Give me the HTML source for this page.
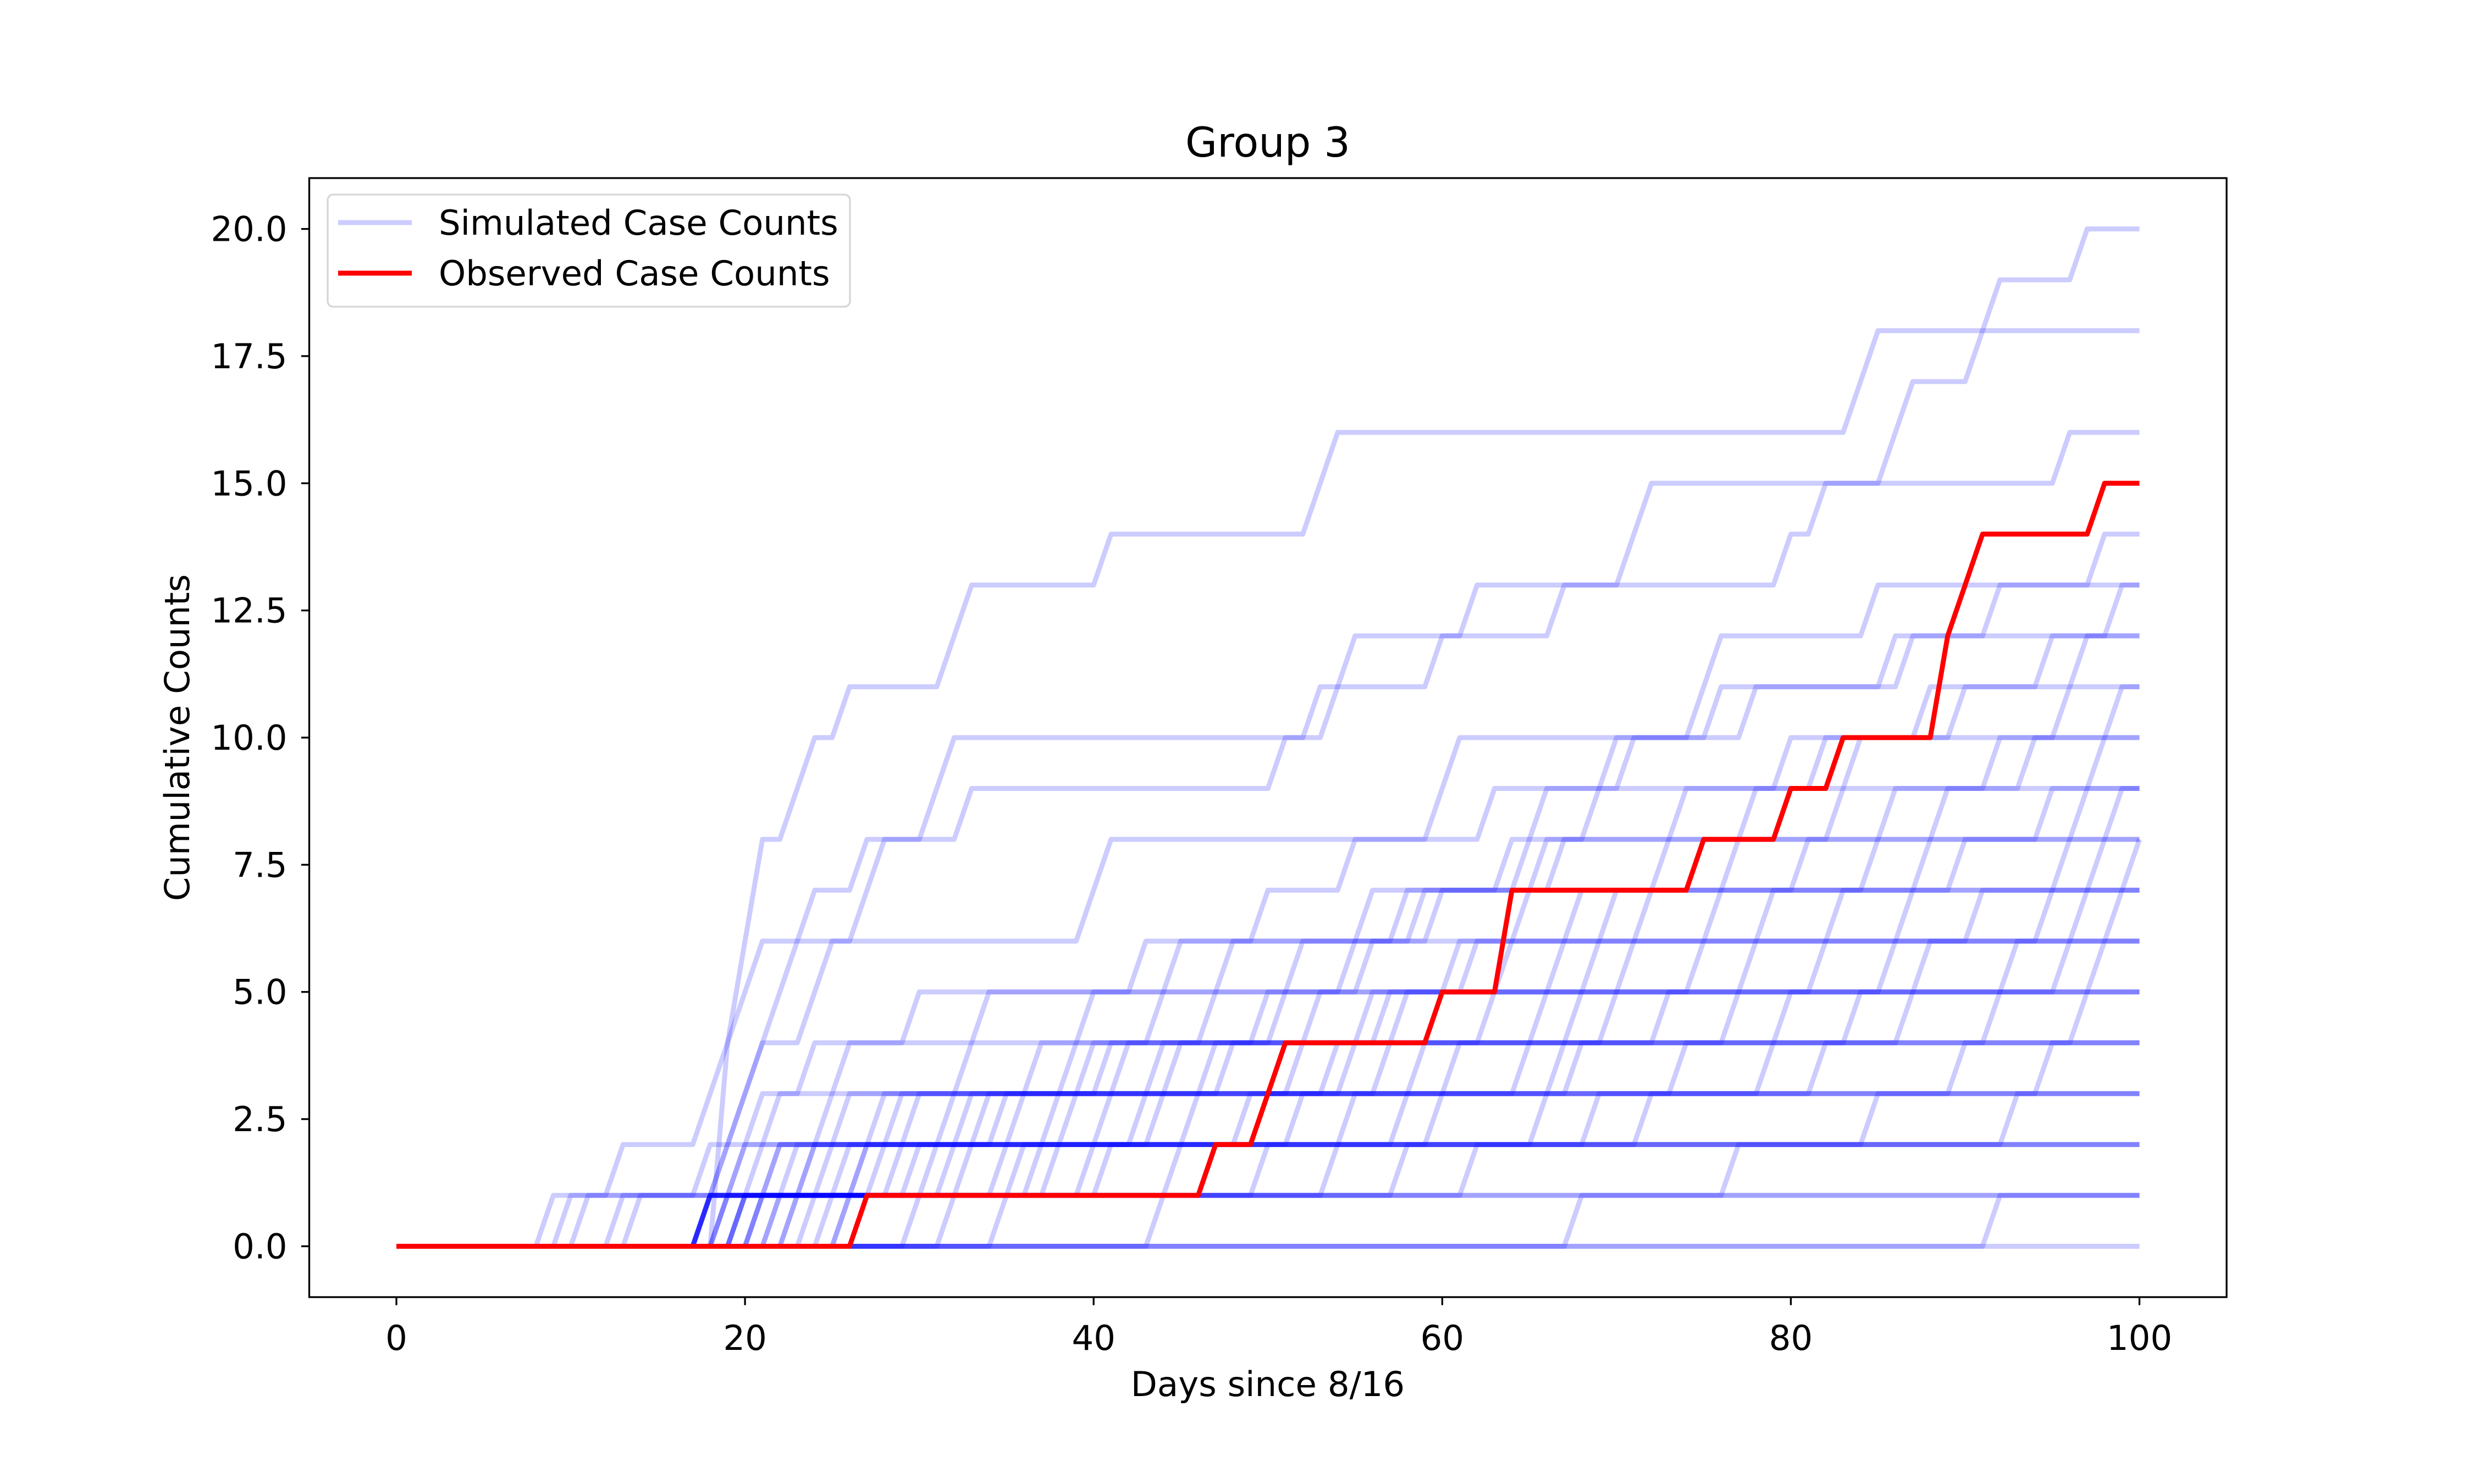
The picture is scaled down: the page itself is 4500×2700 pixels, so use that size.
<!DOCTYPE html>
<html><head><meta charset="utf-8"><style>
html,body{margin:0;padding:0;background:#fff;}
svg{display:block;font-family:"DejaVu Sans","Liberation Sans",sans-serif;}
</style></head><body>
<svg id="chart" width="4500" height="2700" viewBox="0 0 4500 2700" xmlns="http://www.w3.org/2000/svg">
<rect width="4500" height="2700" fill="#fff"/>
<text x="2306" y="285" font-size="75" text-anchor="middle">Group 3</text>
<g id="plot"></g>
<g id="axes"></g>
<rect x="562.5" y="324" width="3487.5" height="2036" fill="none" stroke="#000" stroke-width="3.3"/>
<text x="2306" y="2540" font-size="62.5" text-anchor="middle">Days since 8/16</text>
<text x="344" y="1342" font-size="62.5" text-anchor="middle" transform="rotate(-90 344 1342)">Cumulative Counts</text>
<g>
<rect x="596" y="354" width="950" height="204" rx="10" fill="#fff" fill-opacity="0.8" stroke="#d6d6d6" stroke-width="3.3"/>
<line x1="615" y1="405" x2="749" y2="405" stroke="#0000ff" stroke-opacity="0.2" stroke-width="9"/>
<text x="798" y="427" font-size="62.5">Simulated Case Counts</text>
<line x1="615" y1="497" x2="749" y2="497" stroke="#ff0000" stroke-width="9"/>
<text x="798" y="519" font-size="62.5">Observed Case Counts</text>
</g>
</svg>
<script>
// Simulated series: days on which cumulative count increments by 1
const simulatedJumps = [
[19,19,19,19,20,20,21,21,23,24,26,32,33,41,53,54,84,85],
[9,13,18,19,20,21,27,28,31,32,54,55,67,71,72,86,87,91,92,97],
[11,18,20,21,22,23,24,27,33,51,53,60,62,80,82,96],
[14,19,20,21,24,25,40,41,60,61,75,76,85,98],
[10,20,22,26,30,43,50,55,63,70,76,86,92],
[18,19,21,24,34,45,60,65,66,71,78,87,99],
[13,21,25,33,40,48,56,64,69,82,90,95],
[18,20,26,37,44,52,58,66,74,80,88,97],
[19,22,29,39,47,56,59,67,78,84,96],
[20,24,32,41,50,61,68,77,86,92,99],
[18,22,28,40,51,55,65,73,83,94],
[21,27,36,45,57,64,72,81,89,98],
[18,24,30,42,53,62,70,85,95],
[20,26,35,44,56,67,76,88,97],
[19,23,33,47,58,69,79,90,99],
[18,25,34,48,60,71,83,96],
[22,29,38,52,63,75,87,98],
[20,31,41,55,66,78,91,100],
[18,27,39,54,68,82,95],
[23,32,46,59,73,86,97],
[21,30,43,57,70,88,99],
[19,28,44,61,77,93],
[24,35,50,65,80,96],
[26,37,52,68,84,98],
[18,33,49,67,87],
[22,36,55,74,92],
[25,41,58,79,97],
[20,38,60,82],
[27,45,66,90],
[30,50,72,95],
[18,40,69],
[23,47,85],
[32,58,93],
[21,54],
[26,62],
[35,77],
[44],
[68],
[92],
[]
];
const observedJumps = [27,47,50,51,60,64,64,75,80,83,89,89,90,91,98];
const xTicks = [0,20,40,60,80,100];
const yTicks = [0,2.5,5,7.5,10,12.5,15,17.5,20];
const yTickLabels = ["0.0","2.5","5.0","7.5","10.0","12.5","15.0","17.5","20.0"];
const NDAYS = 100;

const L=562.5,R=4050,T=324,B=2360;
const xMin=-5,xMax=105,yMin=-1,yMax=21;
const sx=v=>L+(v-xMin)/(xMax-xMin)*(R-L);
const sy=v=>B-(v-yMin)/(yMax-yMin)*(B-T);
const NS="http://www.w3.org/2000/svg";
const plot=document.getElementById('plot');
const axes=document.getElementById('axes');

function cumulative(jumps){
  const out=[];
  for(let d=0;d<=NDAYS;d++){out.push(jumps.filter(j=>j<=d).length);}
  return out;
}
function pathFor(vals){
  return vals.map((v,i)=>(i?'L':'M')+sx(i).toFixed(1)+' '+sy(v).toFixed(1)).join(' ');
}
simulatedJumps.forEach((j,k)=>{
  const p=document.createElementNS(NS,'path');
  
  
  p.setAttribute('d',pathFor(cumulative(j)));
  p.setAttribute('fill','none');
  p.setAttribute('stroke','#0000ff');
  p.setAttribute('stroke-opacity','0.2');
  p.setAttribute('stroke-width','9');
  p.setAttribute('stroke-linejoin','round');
  plot.appendChild(p);
});
{
  const p=document.createElementNS(NS,'path');
  
  
  p.setAttribute('d',pathFor(cumulative(observedJumps)));
  p.setAttribute('fill','none');
  p.setAttribute('stroke','#ff0000');
  p.setAttribute('stroke-width','9');
  p.setAttribute('stroke-linejoin','round');
  plot.appendChild(p);
}
xTicks.forEach(v=>{
  const l=document.createElementNS(NS,'line');
  
  
  l.setAttribute('x1',sx(v));l.setAttribute('x2',sx(v));
  l.setAttribute('y1',B);l.setAttribute('y2',B+14.6);
  l.setAttribute('stroke','#000');l.setAttribute('stroke-width','3.3');
  axes.appendChild(l);
  const t=document.createElementNS(NS,'text');
  
  
  t.setAttribute('x',sx(v));t.setAttribute('y',B+96);
  t.setAttribute('font-size','62.5');t.setAttribute('text-anchor','middle');
  t.textContent=String(v);
  axes.appendChild(t);
});
yTicks.forEach((v,i)=>{
  const l=document.createElementNS(NS,'line');
  
  
  l.setAttribute('x1',L-14.6);l.setAttribute('x2',L);
  l.setAttribute('y1',sy(v));l.setAttribute('y2',sy(v));
  l.setAttribute('stroke','#000');l.setAttribute('stroke-width','3.3');
  axes.appendChild(l);
  const t=document.createElementNS(NS,'text');
  
  
  t.setAttribute('x',L-40);t.setAttribute('y',sy(v)+22);
  t.setAttribute('font-size','62.5');t.setAttribute('text-anchor','end');
  t.textContent=yTickLabels[i];
  axes.appendChild(t);
});
</script>
</body></html>
